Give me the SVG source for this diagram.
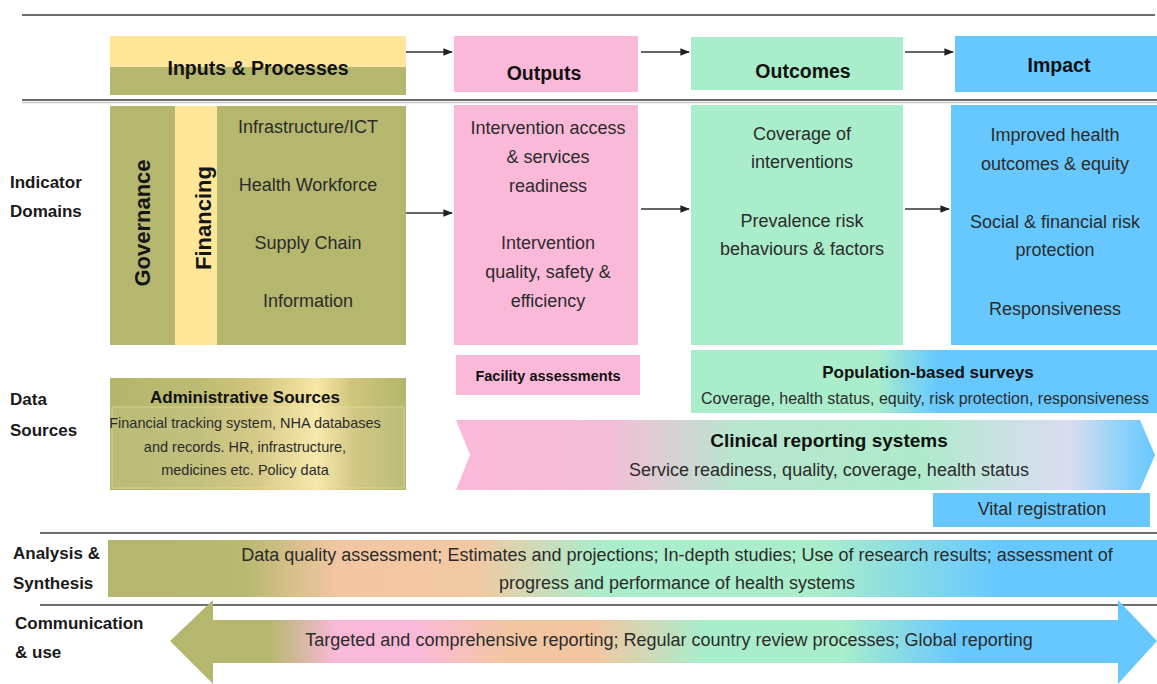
<svg xmlns="http://www.w3.org/2000/svg" width="1157" height="684" viewBox="0 0 1157 684">
  <style>
    text { font-family: "Liberation Sans", Arial, sans-serif; fill: #2b2b2b; }
    .hd { font-size: 19.5px; font-weight: bold; text-anchor: middle; fill: #111; }
    .lbl { font-size: 17px; font-weight: bold; fill: #1a1a1a; }
    .body { font-size: 18px; text-anchor: middle; }
    .vert { font-size: 22px; font-weight: bold; text-anchor: middle; fill: #151515; }
    .rule { stroke: #6e6e6e; stroke-width: 2; fill: none; }
    .rule2 { stroke: #c8c8c8; stroke-width: 1.5; fill: none; }
    .conn { stroke: #333; stroke-width: 1.6; fill: none; marker-end: url(#ah); }
  </style>
  <defs>
    <marker id="ah" viewBox="0 0 10 10" refX="9" refY="5" markerWidth="6" markerHeight="6" orient="auto" markerUnits="strokeWidth">
      <path d="M0,1 L10,5 L0,9 Z" fill="#222"/>
    </marker>
    <linearGradient id="gAdmin" x1="0" y1="0" x2="1" y2="0">
      <stop offset="0" stop-color="#b4b66c"/>
      <stop offset="0.3" stop-color="#bdbb72"/>
      <stop offset="0.5" stop-color="#d4c67e"/>
      <stop offset="0.7" stop-color="#f7e7a6"/>
      <stop offset="0.82" stop-color="#d0c47c"/>
      <stop offset="1" stop-color="#b4b66c"/>
    </linearGradient>
    <linearGradient id="gSurvey" x1="0" y1="0" x2="1" y2="0">
      <stop offset="0" stop-color="#a9edcb"/>
      <stop offset="0.4" stop-color="#a9edcb"/>
      <stop offset="0.53" stop-color="#66c8ff"/>
      <stop offset="1" stop-color="#66c8ff"/>
    </linearGradient>
    <linearGradient id="gClinical" x1="0" y1="0" x2="1" y2="0">
      <stop offset="0" stop-color="#fbb9d9"/>
      <stop offset="0.22" stop-color="#f3bdd8"/>
      <stop offset="0.4" stop-color="#b9e6cf"/>
      <stop offset="0.66" stop-color="#aeebcb"/>
      <stop offset="0.8" stop-color="#cde0e6"/>
      <stop offset="0.88" stop-color="#d8dcf0"/>
      <stop offset="0.95" stop-color="#8fd3f8"/>
      <stop offset="1" stop-color="#66c8ff"/>
    </linearGradient>
    <linearGradient id="gAnalysis" x1="0" y1="0" x2="1" y2="0">
      <stop offset="0" stop-color="#b5b76f"/>
      <stop offset="0.13" stop-color="#b8b870"/>
      <stop offset="0.22" stop-color="#f3c6a2"/>
      <stop offset="0.35" stop-color="#f2c8a2"/>
      <stop offset="0.47" stop-color="#a9edcb"/>
      <stop offset="0.68" stop-color="#a9edcb"/>
      <stop offset="0.85" stop-color="#66c8ff"/>
      <stop offset="1" stop-color="#66c8ff"/>
    </linearGradient>
    <linearGradient id="gComm" x1="0" y1="0" x2="1" y2="0">
      <stop offset="0" stop-color="#b5b76f"/>
      <stop offset="0.1" stop-color="#b5b76f"/>
      <stop offset="0.17" stop-color="#fbb9d9"/>
      <stop offset="0.25" stop-color="#fbb9d9"/>
      <stop offset="0.34" stop-color="#f3c6a2"/>
      <stop offset="0.43" stop-color="#f3c6a2"/>
      <stop offset="0.54" stop-color="#a9edcb"/>
      <stop offset="0.68" stop-color="#a9edcb"/>
      <stop offset="0.8" stop-color="#66c8ff"/>
      <stop offset="1" stop-color="#66c8ff"/>
    </linearGradient>
  </defs>

  <rect width="1157" height="684" fill="#ffffff"/>

  <!-- horizontal rules -->
  <g id="rules">
    <line class="rule" x1="22" y1="15" x2="1155" y2="15"/>
    <line class="rule" x1="22" y1="100" x2="1157" y2="100"/>
    <line class="rule2" x1="22" y1="102.5" x2="1157" y2="102.5"/>
    <line class="rule" x1="40" y1="533" x2="1157" y2="533"/>
    <line class="rule" x1="40" y1="605" x2="1157" y2="605"/>
  </g>

  <!-- row labels -->
  <g id="row-labels">
    <text class="lbl" x="10" y="188">Indicator</text>
    <text class="lbl" x="10" y="217">Domains</text>
    <text class="lbl" x="10" y="405">Data</text>
    <text class="lbl" x="10" y="436">Sources</text>
    <text class="lbl" x="13" y="559">Analysis &amp;</text>
    <text class="lbl" x="13" y="589">Synthesis</text>
    <text class="lbl" x="15" y="629">Communication</text>
    <text class="lbl" x="15" y="658">&amp; use</text>
  </g>

  <!-- column headers -->
  <g id="hdr-inputs">
    <rect x="110" y="36" width="296" height="31" fill="#ffe699"/>
    <rect x="110" y="67" width="296" height="28" fill="#b5b76f"/>
    <text class="hd" x="258" y="75">Inputs &amp; Processes</text>
  </g>
  <g id="hdr-outputs">
    <rect x="454" y="36" width="184" height="56" fill="#fbb9d9"/>
    <text class="hd" x="544" y="80">Outputs</text>
  </g>
  <g id="hdr-outcomes">
    <rect x="691" y="37" width="212" height="53" fill="#a9edcb"/>
    <text class="hd" x="803" y="78">Outcomes</text>
  </g>
  <g id="hdr-impact">
    <rect x="955" y="36" width="202" height="56" fill="#66c8ff"/>
    <text class="hd" x="1059" y="72">Impact</text>
  </g>

  <!-- indicator domains -->
  <g id="inputs-domains">
    <rect x="110" y="106" width="65" height="239" fill="#b5b76f"/>
    <rect x="175" y="106" width="42" height="239" fill="#ffe699"/>
    <rect x="217" y="106" width="189" height="239" fill="#b5b76f"/>
    <text class="vert" transform="translate(150,223) rotate(-90)">Governance</text>
    <text class="vert" transform="translate(211,218) rotate(-90)">Financing</text>
    <text class="body" x="308" y="133">Infrastructure/ICT</text>
    <text class="body" x="308" y="191">Health Workforce</text>
    <text class="body" x="308" y="249">Supply Chain</text>
    <text class="body" x="308" y="307">Information</text>
  </g>
  <g id="outputs-domains">
    <rect x="454" y="105" width="184" height="240" fill="#fbb9d9"/>
    <text class="body" x="548" y="134">Intervention  access</text>
    <text class="body" x="548" y="163">&amp; services</text>
    <text class="body" x="548" y="192">readiness</text>
    <text class="body" x="548" y="249">Intervention</text>
    <text class="body" x="548" y="278">quality, safety &amp;</text>
    <text class="body" x="548" y="307">efficiency</text>
  </g>
  <g id="outcomes-domains">
    <rect x="691" y="105" width="212" height="240" fill="#a9edcb"/>
    <text class="body" x="802" y="140">Coverage of</text>
    <text class="body" x="802" y="168">interventions</text>
    <text class="body" x="802" y="227">Prevalence risk</text>
    <text class="body" x="802" y="255">behaviours &amp; factors</text>
  </g>
  <g id="impact-domains">
    <rect x="951" y="105" width="206" height="240" fill="#66c8ff"/>
    <text class="body" x="1055" y="141">Improved health</text>
    <text class="body" x="1055" y="170">outcomes &amp; equity</text>
    <text class="body" x="1055" y="228">Social &amp; financial risk</text>
    <text class="body" x="1055" y="256">protection</text>
    <text class="body" x="1055" y="315">Responsiveness</text>
  </g>

  <!-- data sources -->
  <g id="src-admin">
    <rect x="110" y="378" width="296" height="112" fill="url(#gAdmin)"/>
    <rect x="112" y="407" width="292" height="81" fill="#ffffff" fill-opacity="0.08" stroke="#e9e1a8" stroke-opacity="0.6" stroke-width="1"/>
    <text x="245" y="403" style="font-size:17px;font-weight:bold;text-anchor:middle;fill:#111">Administrative  Sources</text>
    <text x="245" y="428" style="font-size:14.5px;text-anchor:middle">Financial tracking system, NHA databases</text>
    <text x="245" y="452" style="font-size:14.5px;text-anchor:middle">and records. HR, infrastructure,</text>
    <text x="245" y="475" style="font-size:14.5px;text-anchor:middle">medicines etc.  Policy data</text>
  </g>
  <g id="src-facility">
    <rect x="456" y="355" width="184" height="40" fill="#fbb9d9"/>
    <text x="548" y="381" style="font-size:14.5px;font-weight:bold;text-anchor:middle;fill:#111">Facility assessments</text>
  </g>
  <g id="src-surveys">
    <rect x="691" y="350" width="466" height="63" fill="url(#gSurvey)"/>
    <text x="928" y="378" style="font-size:17px;font-weight:bold;text-anchor:middle;fill:#111">Population-based  surveys</text>
    <text x="925" y="404" style="font-size:16px;text-anchor:middle">Coverage, health status, equity, risk protection, responsiveness</text>
  </g>
  <g id="src-clinical">
    <path d="M456,420 L1140,420 L1155,455 L1140,490 L456,490 L470,455 Z" fill="url(#gClinical)"/>
    <text x="829" y="447" style="font-size:19px;font-weight:bold;text-anchor:middle;fill:#111">Clinical reporting systems</text>
    <text x="829" y="476" style="font-size:18px;text-anchor:middle">Service readiness,  quality,  coverage,  health status</text>
  </g>
  <g id="src-vital">
    <rect x="933" y="493" width="217" height="34" fill="#66c8ff"/>
    <text x="1042" y="515" style="font-size:18px;text-anchor:middle">Vital registration</text>
  </g>

  <!-- analysis & synthesis -->
  <g id="analysis">
    <rect x="108" y="540" width="1049" height="57" fill="url(#gAnalysis)"/>
    <text x="677" y="561" style="font-size:18px;text-anchor:middle">Data quality assessment; Estimates and projections; In-depth studies; Use of research results; assessment of</text>
    <text x="677" y="589" style="font-size:18px;text-anchor:middle">progress and performance of health systems</text>
  </g>

  <!-- communication & use -->
  <g id="communication">
    <path d="M170,641 L213,600 L213,620 L1118,620 L1118,600 L1157,641 L1118,684 L1118,663 L213,663 L213,684 Z" fill="url(#gComm)"/>
    <text x="669" y="646" style="font-size:18px;text-anchor:middle">Targeted and comprehensive  reporting; Regular country review processes; Global reporting</text>
  </g>

  <!-- connectors -->
  <g id="connectors">
    <line class="conn" x1="406" y1="52" x2="452" y2="52"/>
    <line class="conn" x1="641" y1="52" x2="689" y2="52"/>
    <line class="conn" x1="905" y1="52" x2="953" y2="52"/>
    <line class="conn" x1="406" y1="213" x2="452" y2="213"/>
    <line class="conn" x1="641" y1="209" x2="689" y2="209"/>
    <line class="conn" x1="905" y1="209" x2="949" y2="209"/>
  </g>
</svg>
